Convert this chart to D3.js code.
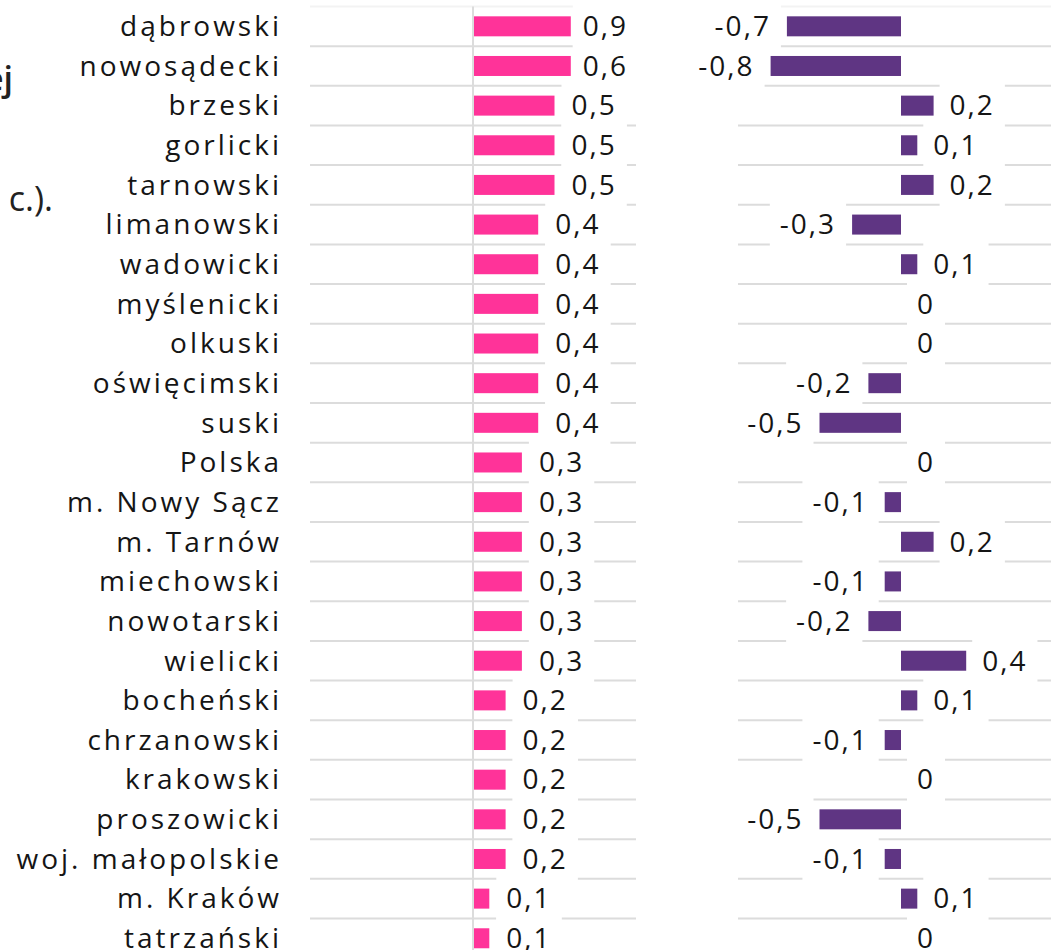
<!DOCTYPE html>
<html>
<head>
<meta charset="utf-8">
<script src="https://cdn.jsdelivr.net/npm/d3@7"></script>
<style>
  body { margin: 0; background: #fff; }
  text { font-family: "Open Sans", sans-serif; fill: #151515; }
</style>
</head>
<body>
<svg width="1051" height="950"></svg>
<script>
const categories = ["dąbrowski", "nowosądecki", "brzeski", "gorlicki", "tarnowski", "limanowski",
  "wadowicki", "myślenicki", "olkuski", "oświęcimski", "suski", "Polska", "m. Nowy Sącz",
  "m. Tarnów", "miechowski", "nowotarski", "wielicki", "bocheński", "chrzanowski", "krakowski",
  "proszowicki", "woj. małopolskie", "m. Kraków", "tatrzański"];
const leftValues = [0.9, 0.6, 0.5, 0.5, 0.5, 0.4, 0.4, 0.4, 0.4, 0.4, 0.4, 0.3,
  0.3, 0.3, 0.3, 0.3, 0.3, 0.2, 0.2, 0.2, 0.2, 0.2, 0.1, 0.1];
const rightValues = [-0.7, -0.8, 0.2, 0.1, 0.2, -0.3, 0.1, 0, 0, -0.2, -0.5, 0,
  -0.1, 0.2, -0.1, -0.2, 0.4, 0.1, -0.1, 0, -0.5, -0.1, 0.1, 0];
// fragments of the cropped intro text on the left
const introFragments = ["ej", "c.)."];

const leftCap = 0.6; // bars stop at this value in the left panel

const svg = d3.select("svg");
const pink = "#ff3399";
const purple = "#5f3583";
const catSpacing = 3;
const valSpacing = 2;

const fmt = d3.formatLocale({decimal: ",", thousands: " ", grouping: [3], currency: ["", ""], minus: "-"}).format("~g");

const y = d3.scaleBand().domain(categories).range([6.5, 6.5 + 24 * 39.65]);
const xL = d3.scaleLinear().domain([-1, 1]).range([310, 636]);
const xR = d3.scaleLinear().domain([-1, 1]).range([738, 1064]);
const mid = d => y(d) + y.bandwidth() / 2;
const barH = 20;

// intro fragments
svg.append("text").attr("x", 13).attr("y", 91).attr("text-anchor", "end")
  .style("font-size", "34px").style("font-weight", 600).style("fill", "#222").text(introFragments[0]);
svg.append("text").attr("x", 53).attr("y", 211).attr("text-anchor", "end")
  .style("font-size", "34px").style("fill", "#222").text(introFragments[1]);

const grid = svg.append("g");
const boxes = svg.append("g");
const bars = svg.append("g");
const labels = svg.append("g");

// row gridlines
[xL, xR].forEach(x => {
  grid.append("line")
    .attr("x1", x.range()[0]).attr("x2", x.range()[1])
    .attr("y1", y.range()[0]).attr("y2", y.range()[0])
    .attr("stroke", "#f3f3f3").attr("stroke-width", 2);
  grid.selectAll(null)
    .data(categories)
    .join("line")
    .attr("x1", x.range()[0]).attr("x2", x.range()[1])
    .attr("y1", d => y(d) + y.step()).attr("y2", d => y(d) + y.step())
    .attr("stroke", "#dcdcdc").attr("stroke-width", 2);
});

grid.append("line")
  .attr("x1", xL(0)).attr("x2", xL(0))
  .attr("y1", y.range()[0]).attr("y2", 950)
  .attr("stroke", "#dcdcdc").attr("stroke-width", 2);

// category labels
labels.selectAll(".cat")
  .data(categories)
  .join("text")
  .attr("class", "cat")
  .attr("x", 279 + catSpacing)
  .attr("y", d => mid(d))
  .attr("dy", "0.35em")
  .attr("text-anchor", "end")
  .style("font-size", "28px")
  .style("letter-spacing", catSpacing + "px")
  .text(d => d);

// left panel
const leftData = categories.map((c, i) => ({c, v: leftValues[i]}));
bars.selectAll(".barL")
  .data(leftData)
  .join("rect")
  .attr("class", "barL")
  .attr("x", xL(0) + 1)
  .attr("y", d => mid(d.c) - barH / 2)
  .attr("width", d => xL(Math.min(d.v, leftCap)) - xL(0) - 1)
  .attr("height", barH)
  .attr("fill", pink);

const valL = labels.selectAll(".valL")
  .data(leftData)
  .join("text")
  .attr("class", "valL")
  .attr("x", d => Math.min(xL(d.v) + 17, xL(leftCap) + 12))
  .attr("y", d => mid(d.c))
  .attr("dy", "0.35em")
  .style("font-size", "28px")
  .style("letter-spacing", valSpacing + "px")
  .text(d => fmt(d.v));

// right panel
const rightData = categories.map((c, i) => ({c, v: rightValues[i]}));
bars.selectAll(".barR")
  .data(rightData.filter(d => d.v !== 0))
  .join("rect")
  .attr("class", "barR")
  .attr("x", d => xR(Math.min(0, d.v)))
  .attr("y", d => mid(d.c) - barH / 2)
  .attr("width", d => Math.abs(xR(d.v) - xR(0)))
  .attr("height", barH)
  .attr("fill", purple);

const valR = labels.selectAll(".valR")
  .data(rightData)
  .join("text")
  .attr("class", "valR")
  .attr("x", d => d.v < 0 ? xR(d.v) - 18 + valSpacing : xR(d.v) + 16)
  .attr("y", d => mid(d.c))
  .attr("dy", "0.35em")
  .attr("text-anchor", d => d.v < 0 ? "end" : "start")
  .style("font-size", "28px")
  .style("letter-spacing", valSpacing + "px")
  .text(d => fmt(d.v));

// white boxes behind value labels break the gridlines
[valL, valR].forEach(sel => {
  sel.each(function(d) {
    const b = this.getBBox();
    boxes.append("rect")
      .attr("x", b.x - 10)
      .attr("y", mid(d.c) - 22)
      .attr("width", b.width + 20)
      .attr("height", 44)
      .attr("fill", "#fff");
  });
});
</script>
</body>
</html>
